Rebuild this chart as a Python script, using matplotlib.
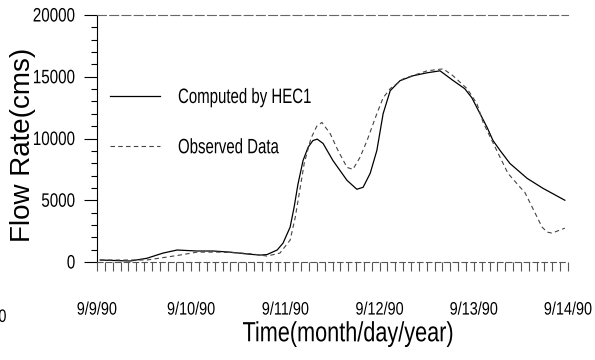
import matplotlib
matplotlib.use("Agg")
import matplotlib.pyplot as plt
from matplotlib.patheffects import AbstractPathEffect
from matplotlib.transforms import Affine2D
from matplotlib.lines import Line2D
from matplotlib.ticker import MultipleLocator

# ---- data (hours since 9/9/90 00:00, flow in cms) ----
computed_hours = [0.8, 8.4, 12.7, 16.8, 20.4, 25.5, 29.6, 33.9, 38.2, 41.5, 43.3,
                  45.9, 47.4, 49.2, 50.2, 51.2, 52.5, 53.8, 55.0, 56.1, 57.6, 60.1,
                  63.7, 66.2, 67.8, 69.6, 71.3, 72.9, 74.7, 77.2, 80.5, 84.1, 87.4,
                  90.7, 93.7, 95.5, 99.4, 100.9, 102.7, 105.2, 109.6, 113.6, 119.2]
computed_flow = [160, 80, 300, 720, 970, 890, 890, 800, 650, 560, 600,
                 970, 1530, 2820, 4400, 6300, 8220, 9300, 9830, 9950, 9600, 8220,
                 6610, 5890, 6050, 7180, 9030, 12010, 13870, 14680, 15080, 15320, 15480,
                 14700, 14030, 13300, 10890, 9830, 9030, 7980, 6770, 5970, 5000]

observed_hours = [0.8, 12.7, 17.8, 21.1, 25.5, 31.3, 36.4, 39.7, 43.3, 46.6, 49.2,
                  50.5, 51.5, 52.8, 54.5, 56.0, 57.3, 59.4, 61.4, 63.7, 65.2, 67.0,
                  68.8, 71.3, 72.9, 74.7, 78.0, 84.1, 88.2, 90.7, 94.3, 96.8, 98.4,
                  102.7, 104.7, 107.8, 109.0, 113.4, 114.7, 115.9, 119.2]
observed_flow = [160, 160, 400, 560, 800, 800, 730, 650, 480, 720, 1770,
                 3600, 5500, 8000, 10000, 11000, 11300, 10400, 9030, 7660, 7500, 8470,
                 9830, 12010, 13300, 14030, 14830, 15480, 15640, 15080, 14030, 12820, 11290,
                 8470, 7180, 6050, 5640, 2820, 2420, 2340, 2740]

day_ticks = [0, 24, 48, 72, 96, 120]
day_labels = ["9/9/90", "9/10/90", "9/11/90", "9/12/90", "9/13/90", "9/14/90"]
y_ticks = [0, 5000, 10000, 15000, 20000]
y_labels = ["0", "5000", "10000", "15000", "20000"]


class Squeeze(AbstractPathEffect):
    """Horizontally condense text (the original uses a very narrow face)."""
    def __init__(self, sx, anchor="center"):
        super().__init__()
        self.sx = sx
        self.anchor = anchor

    def draw_path(self, renderer, gc, tpath, affine, rgbFace=None):
        ext = tpath.get_extents()
        if self.anchor == "left":
            cx = ext.x0
        elif self.anchor == "right":
            cx = ext.x1
        else:
            cx = 0.5 * (ext.x0 + ext.x1)
        t = Affine2D().translate(-cx, 0).scale(self.sx, 1).translate(cx, 0)
        renderer.draw_path(gc, tpath, t + affine, rgbFace)


plt.rcParams["font.family"] = ["Liberation Sans", "DejaVu Sans"]

fig = plt.figure(figsize=(5.95, 3.6), dpi=100)
ax = fig.add_axes([97 / 595, 1 - 262 / 360, (568 - 97) / 595, (262 - 15) / 360])

ax.plot(computed_hours, computed_flow, color="black", lw=0.9, label="Computed by HEC1")
ax.plot(observed_hours, observed_flow, color="#444444", lw=0.8,
        linestyle=(0, (4, 3)), label="Observed Data")

ax.set_xlim(0, 120)
ax.set_ylim(0, 20000)

# spines
ax.spines["right"].set_visible(False)
ax.spines["left"].set_linewidth(0.8)
ax.spines["top"].set_color("#666666")
ax.spines["top"].set_linewidth(0.8)
ax.spines["top"].set_linestyle((0, (8, 3)))
ax.spines["bottom"].set_color("#555555")
ax.spines["bottom"].set_linewidth(0.8)
ax.spines["bottom"].set_linestyle((0, (5, 3)))

# x ticks
ax.set_xticks(day_ticks, labels=day_labels)
ax.xaxis.set_minor_locator(MultipleLocator(2))
ax.tick_params(axis="x", which="both", direction="out", length=6.5, width=0.8,
               color="#555555", labelsize=13, pad=22)
# y ticks
ax.set_yticks(y_ticks, labels=y_labels)
ax.yaxis.set_minor_locator(MultipleLocator(1000))
ax.tick_params(axis="y", which="major", direction="out", length=9.5, width=0.8,
               labelsize=14, pad=6)
ax.tick_params(axis="y", which="minor", direction="out", length=4.5, width=0.8)

for lab in ax.get_xticklabels():
    lab.set_path_effects([Squeeze(0.8, "center")])
for lab in ax.get_yticklabels():
    lab.set_path_effects([Squeeze(0.78, "right")])

# left cropped tick label of previous day
t8 = ax.text(-23, -0.19, "9/8/90", transform=ax.get_xaxis_transform(),
             ha="right", va="top", fontsize=13, clip_on=False)
t8.set_path_effects([Squeeze(0.8, "right")])

# axis labels
ax.set_xlabel("Time(month/day/year)", fontsize=20)
ax.xaxis.set_label_coords(0.533, -0.24)
ax.xaxis.label.set_path_effects([Squeeze(0.78, "center")])
ax.set_ylabel("Flow Rate(cms)", fontsize=20)
ax.yaxis.set_label_coords(-0.13, 0.474)

# legend
handles = [Line2D([], [], color="black", lw=0.9),
           Line2D([], [], color="#444444", lw=0.8, linestyle=(0, (4, 3)))]
leg = ax.legend(handles, ["Computed by HEC1", "Observed Data"],
                loc="upper left", bbox_to_anchor=(110 / 595, 1 - 88 / 360),
                bbox_transform=fig.transFigure, frameon=False, fontsize=15,
                borderpad=0, borderaxespad=0, handlelength=2.4,
                handletextpad=0.85, labelspacing=1.5)
for t in leg.get_texts():
    t.set_path_effects([Squeeze(0.72, "left")])

fig.savefig("out.png", dpi=100)
